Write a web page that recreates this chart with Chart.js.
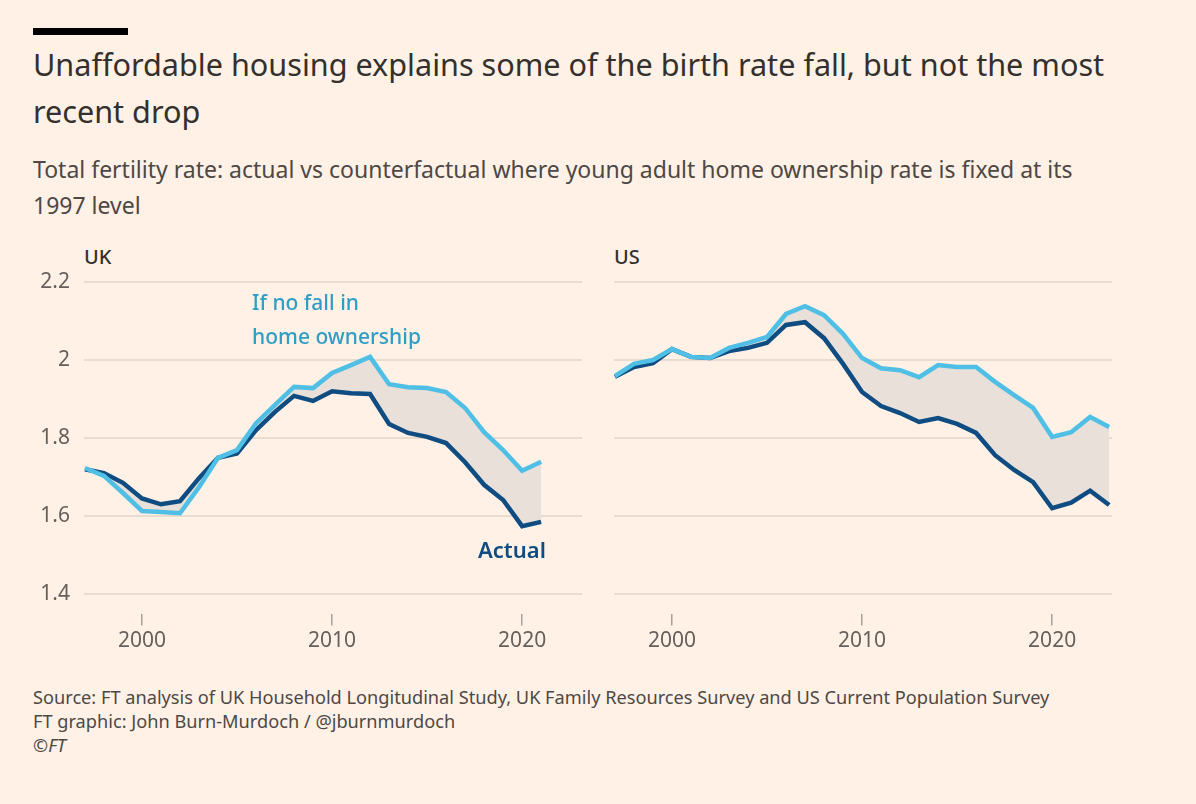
<!DOCTYPE html>
<html>
<head>
<meta charset="utf-8">
<script src="https://cdn.jsdelivr.net/npm/chart.js@4.4.1/dist/chart.umd.min.js"></script>
<style>
    body {
        margin: 0;
        background: #fff1e5;
        font-family: "Noto Sans", sans-serif;
        color: #33302e;
    }
    #page {
        position: relative;
        width: 1196px;
        height: 804px;
        overflow: hidden;
    }
    .abs { position: absolute; white-space: nowrap; }
    #bar { left: 33px; top: 28px; width: 95px; height: 7px; background: #000; }
    #title { left: 33px; top: 41px; font-size: 30.6px; line-height: 47px; color: #33302e; }
    #subtitle { left: 33px; top: 151px; font-size: 23px; line-height: 36px; color: #4d4845; }
    .panel { top: 243px; font-size: 20px; font-weight: 500; color: #33302e; }
    .note-light { color: #2f9ec4; font-size: 21px; font-weight: 500; line-height: 34px; }
    .note-dark { color: #0f4c81; font-size: 22px; font-weight: 600; }
    #footer { left: 33px; top: 685px; font-size: 18.2px; line-height: 24px; color: #4d4845; }
    canvas { position: absolute; }
</style>
</head>
<body>
<div id="page">
    <div id="bar" class="abs"></div>
    <div id="title" class="abs">Unaffordable housing explains some of the birth rate fall, but not the most<br>recent drop</div>
    <div id="subtitle" class="abs">Total fertility rate: actual vs counterfactual where young adult home ownership rate is fixed at its<br>1997 level</div>

    <div class="abs panel" style="left:84px;">UK</div>
    <div class="abs panel" style="left:614px;">US</div>

    <canvas id="chart_uk" width="582" height="390" style="left:0px; top:270px;"></canvas>
    <canvas id="chart_us" width="498" height="390" style="left:614px; top:270px;"></canvas>

    <div class="abs note-light" style="left:252px; top:285px;">If no fall in<br>home ownership</div>
    <div class="abs note-dark" style="left:478px; top:534px;">Actual</div>

    <div id="footer" class="abs">Source: FT analysis of UK Household Longitudinal Study, UK Family Resources Survey and US Current Population Survey<br>FT graphic: John Burn-Murdoch / @jburnmurdoch<br><i>©FT</i></div>
</div>

<script>
// data
const ukYears = [1997, 1998, 1999, 2000, 2001, 2002, 2003, 2004, 2005, 2006, 2007, 2008, 2009,
                 2010, 2011, 2012, 2013, 2014, 2015, 2016, 2017, 2018, 2019, 2020, 2021];
const ukActual = [1.72, 1.71, 1.685, 1.645, 1.63, 1.638, 1.697, 1.749, 1.76, 1.82, 1.867, 1.908, 1.895,
                  1.92, 1.915, 1.913, 1.836, 1.813, 1.803, 1.787, 1.738, 1.68, 1.641, 1.574, 1.585];
const ukFixed = [1.723, 1.703, 1.659, 1.613, 1.61, 1.607, 1.674, 1.749, 1.769, 1.838, 1.885, 1.931, 1.928,
                 1.967, 1.987, 2.008, 1.938, 1.93, 1.928, 1.918, 1.877, 1.815, 1.769, 1.716, 1.739];

const usYears = [1997, 1998, 1999, 2000, 2001, 2002, 2003, 2004, 2005, 2006, 2007, 2008, 2009, 2010,
                 2011, 2012, 2013, 2014, 2015, 2016, 2017, 2018, 2019, 2020, 2021, 2022, 2023];
const usActual = [1.957, 1.982, 1.992, 2.028, 2.008, 2.005, 2.023, 2.031, 2.044, 2.09, 2.097, 2.056, 1.99, 1.918,
                  1.882, 1.864, 1.841, 1.851, 1.836, 1.813, 1.756, 1.718, 1.687, 1.62, 1.634, 1.665, 1.628];
const usFixed = [1.959, 1.99, 2.0, 2.028, 2.008, 2.005, 2.031, 2.044, 2.059, 2.118, 2.138, 2.115, 2.067, 2.005,
                 1.979, 1.974, 1.956, 1.987, 1.982, 1.982, 1.944, 1.91, 1.877, 1.803, 1.815, 1.854, 1.828];

const xTicks = [2000, 2010, 2020];
const yTicks = [1.4, 1.6, 1.8, 2.0, 2.2];

const lightBlue = '#4fbfe6';
const darkBlue = '#0f4c81';
const bandFill = '#e8e0d9';
const gridColor = '#e8dccf';
const tickColor = '#66605c';

const toPoints = (years, values) => years.map((yr, i) => ({ x: yr, y: values[i] }));

const makeChart = (id, years, actual, fixed, showYLabels) => {
    new Chart(id, {
        type: 'line',
        data: {
            datasets: [
                {
                    // counterfactual, drawn on top, fills down to actual
                    data: toPoints(years, fixed),
                    borderColor: lightBlue,
                    borderWidth: 4.5,
                    pointRadius: 0,
                    tension: 0,
                    fill: 1,
                    backgroundColor: bandFill
                },
                {
                    data: toPoints(years, actual),
                    borderColor: darkBlue,
                    borderWidth: 4.5,
                    pointRadius: 0,
                    tension: 0,
                    fill: false
                }
            ]
        },
        options: {
            responsive: false,
            animation: false,
            layout: {
                padding: { top: 12, left: 0, right: 0, bottom: 0 }
            },
            plugins: {
                legend: { display: false },
                tooltip: { enabled: false },
                filler: { drawTime: 'beforeDatasetsDraw' }
            },
            scales: {
                x: {
                    type: 'linear',
                    min: 1996.95,
                    max: 2023.15,
                    afterBuildTicks: (scale) => {
                        scale.ticks = xTicks.map(v => ({ value: v }));
                    },
                    afterFit: (scale) => {
                        scale.height = 46.5;
                        scale.paddingLeft = 0;
                        scale.paddingRight = 0;
                    },
                    border: { display: false },
                    grid: {
                        drawOnChartArea: false,
                        drawTicks: true,
                        tickLength: 12,
                        color: '#a8a09a',
                        lineWidth: 1.5
                    },
                    ticks: {
                        color: tickColor,
                        padding: 3,
                        maxRotation: 0,
                        font: { family: 'Noto Sans', size: 21 },
                        callback: (value) => String(value)
                    }
                },
                y: {
                    min: 1.35,
                    max: 2.2,
                    afterBuildTicks: (scale) => {
                        scale.ticks = yTicks.map(v => ({ value: v }));
                    },
                    afterFit: (scale) => {
                        scale.width = showYLabels ? 84 : 0;
                        // keep label half-heights from pushing the plot area
                        scale.paddingTop = 0;
                        scale.paddingBottom = 0;
                    },
                    border: { display: false },
                    grid: {
                        color: gridColor,
                        lineWidth: 2,
                        drawTicks: false
                    },
                    ticks: {
                        display: showYLabels,
                        color: tickColor,
                        padding: 14,
                        font: { family: 'Noto Sans', size: 21 },
                        callback: (value) => String(Math.round(value * 10) / 10)
                    }
                }
            }
        }
    });
};

makeChart('chart_uk', ukYears, ukActual, ukFixed, true);
makeChart('chart_us', usYears, usActual, usFixed, false);
</script>
</body>
</html>
